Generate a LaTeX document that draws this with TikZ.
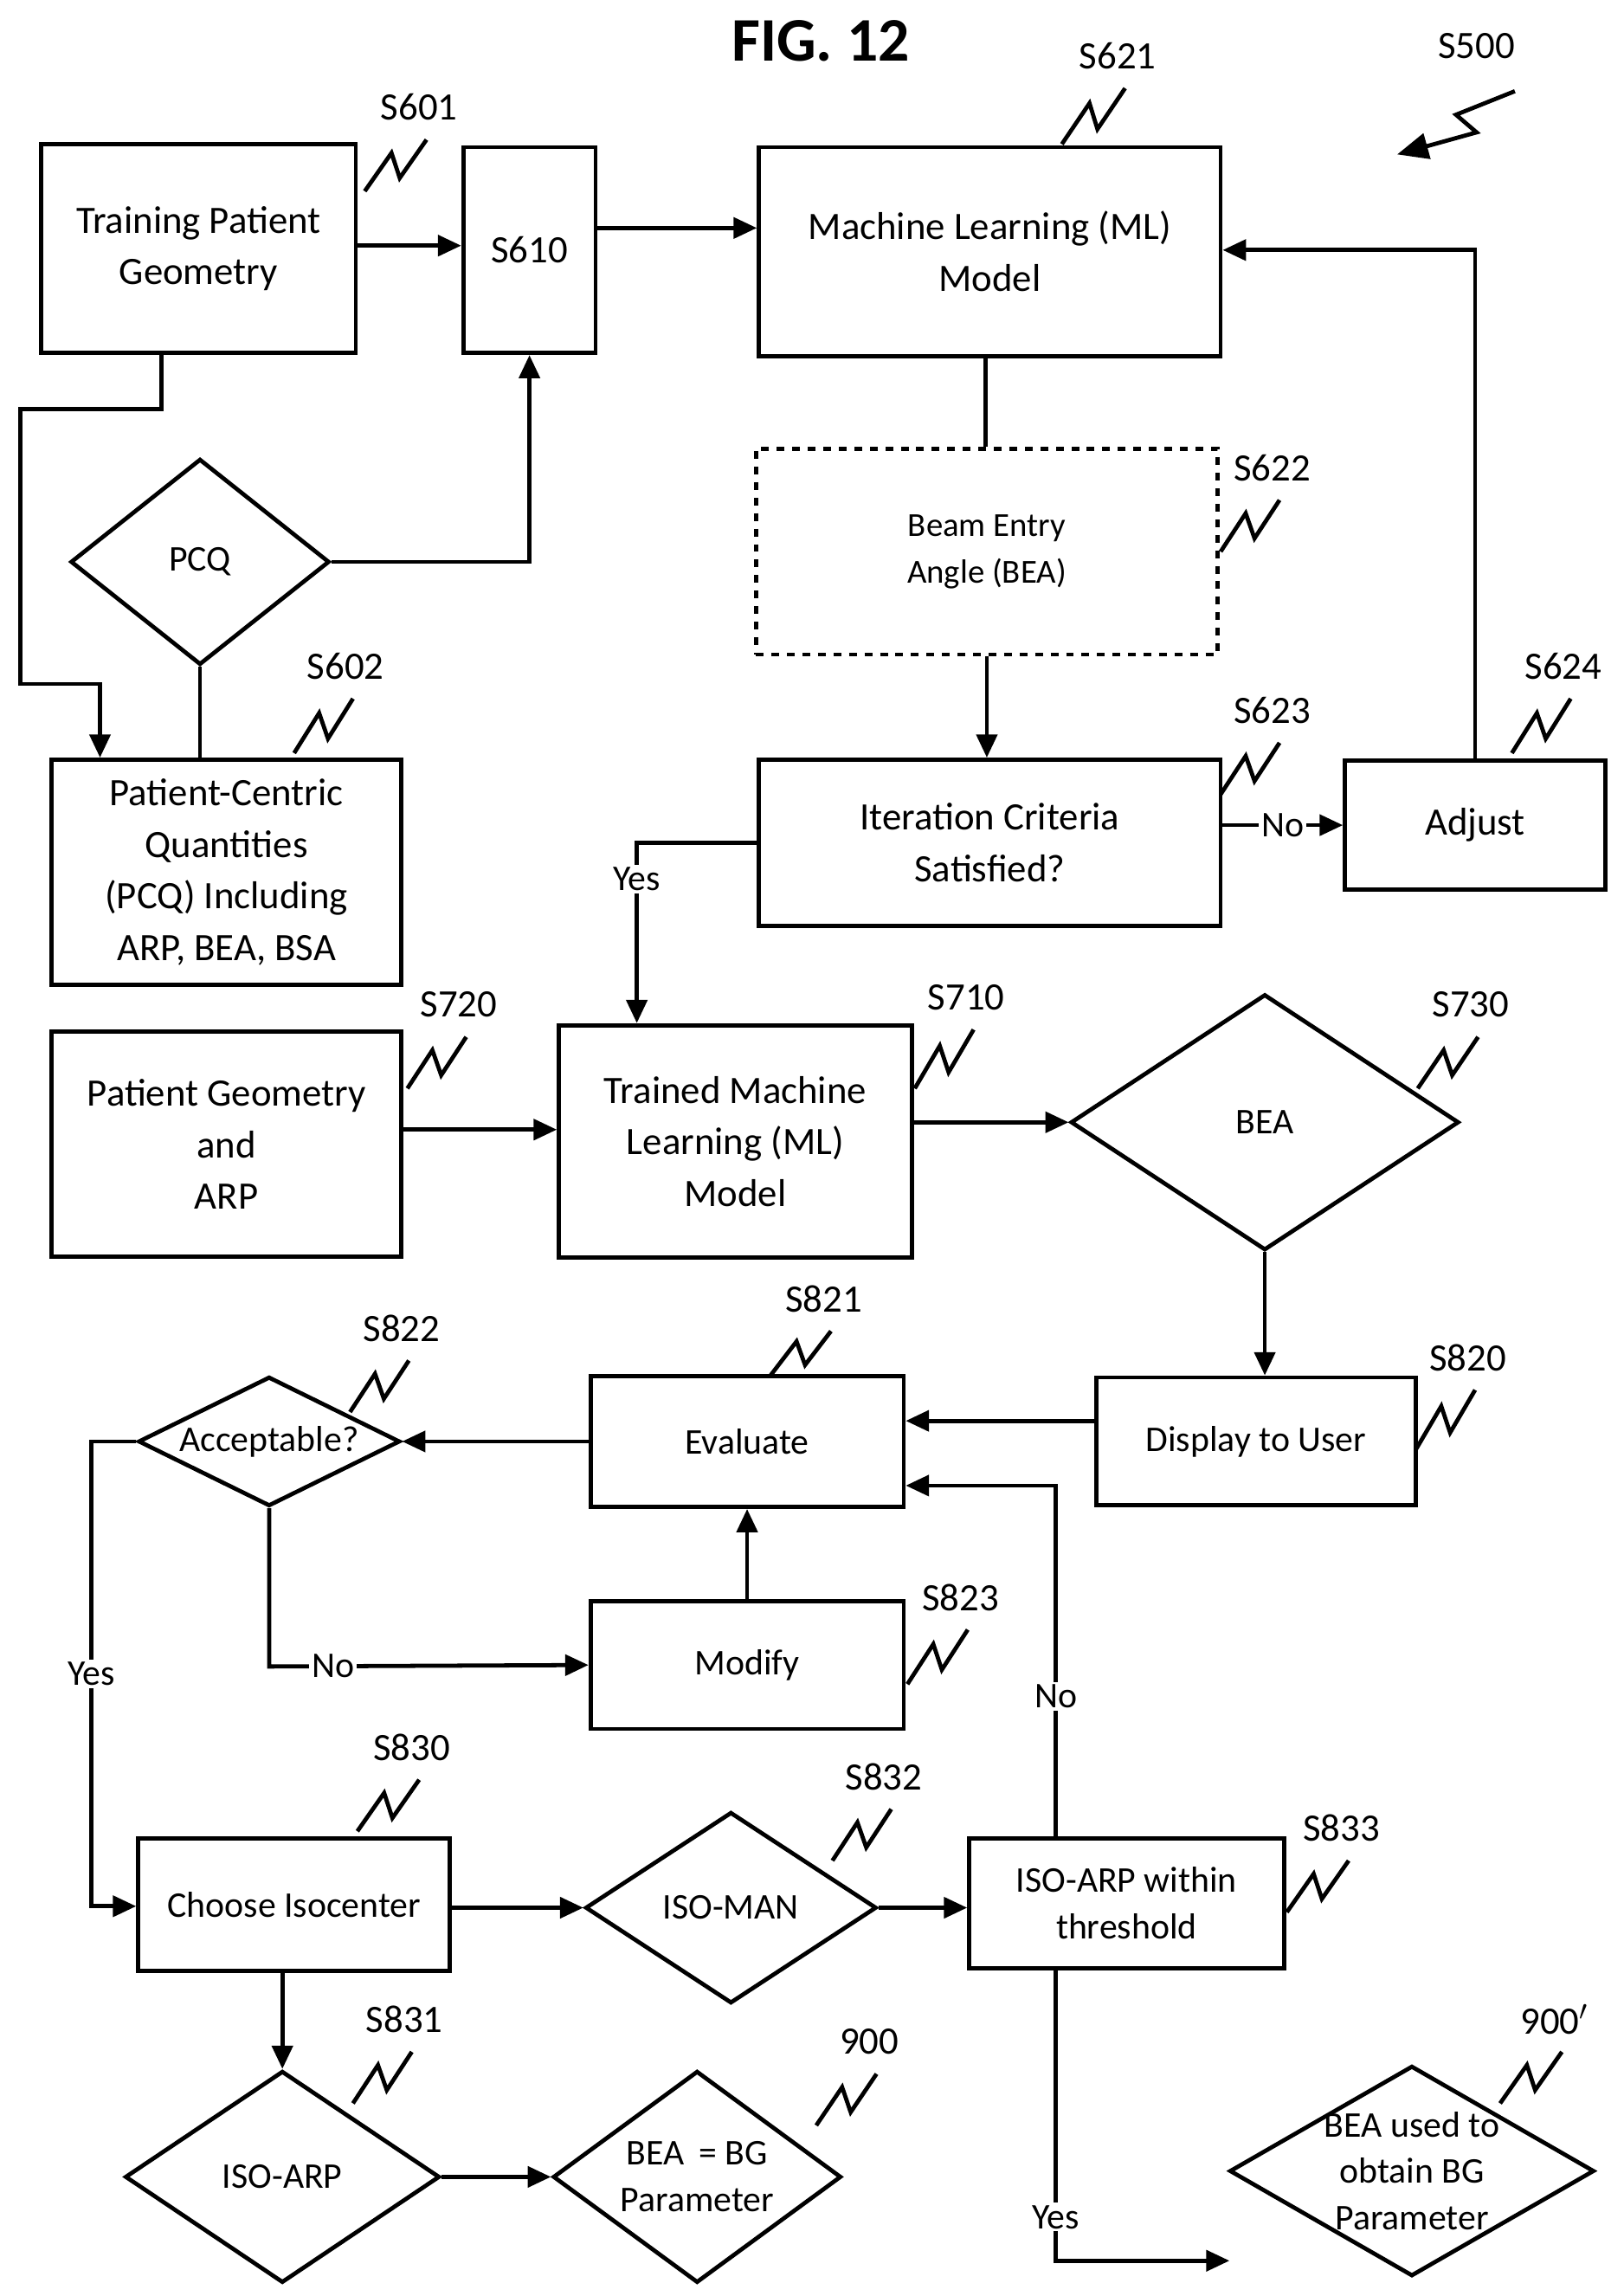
\documentclass[tikz,border=0pt]{standalone}
\usepackage{fontspec}
\setmainfont{Carlito}
\usetikzlibrary{arrows.meta, shapes.geometric, calc}
\tikzset{box/.style={draw, line width=1.6pt, align=center, inner sep=2pt,
    font=\fontsize{15}{20}\selectfont}}
\tikzset{dia/.style={draw, shape=diamond, line width=1.6pt, align=center, inner sep=0pt,
    font=\fontsize{14}{18}\selectfont}}
\tikzset{flow/.style={line width=1.6pt, -{Triangle[length=9pt,width=8pt]}}}
\tikzset{link/.style={line width=1.6pt}}
\tikzset{lbl/.style={font=\fontsize{14}{16}\selectfont, fill=white, inner sep=1pt}}
\newcommand\stepmark[5]{% squiggle from (#1,#2) to (#3,#4), text #5 above
  \draw[line width=1.6pt, line join=miter] (#1,#2) -- ($(#1,#2)!0.6!(#3,#4)+(-7,-5)$) --
    ($(#1,#2)!0.4!(#3,#4)+(7,5)$) -- (#3,#4);
  \node[font=\fontsize{15}{17}\selectfont] at ($(#3,#4)+(-5,-22)$) {#5};%
}
\begin{document}
\begin{tikzpicture}[x=0.02cm, y=-0.02cm]
  \useasboundingbox (0,0) rectangle (1104,1561);
  \node[font=\bfseries\fontsize{24}{28}\selectfont] (fig) at (558,28) {FIG. 12};
  %% boxes
  \node[box, minimum width=4.28cm, minimum height=2.84cm] (tpg) at (135,169) {Training Patient\\Geometry};
  \node[box, minimum width=1.8cm, minimum height=2.8cm] (s610) at (360,170) {S610};
  \node[box, minimum width=6.28cm, minimum height=2.84cm] (ml) at (673,171) {Machine Learning (ML)\\Model};
  \node[dia, aspect=1.26, minimum width=3.52cm, minimum height=2.8cm] (pcq) at (136,382) {PCQ};
  \node[box, minimum width=4.76cm, minimum height=3.06cm] (pcqbox) at (154,593) {Patient-Centric\\Quantities\\(PCQ) Including\\ARP, BEA, BSA};
  \node[box, dashed, minimum width=6.28cm, minimum height=2.8cm, font=\fontsize{13}{18}\selectfont] (bea) at (671,375) {Beam Entry\\Angle (BEA)};
  \node[box, minimum width=6.28cm, minimum height=2.26cm] (iter) at (673,573) {Iteration Criteria\\Satisfied?};
  \node[box, minimum width=3.54cm, minimum height=1.76cm] (adj) at (1003,561) {Adjust};
  \node[box, minimum width=4.76cm, minimum height=3.06cm] (pga) at (154,778) {Patient Geometry\\and\\ARP};
  \node[box, minimum width=4.8cm, minimum height=3.16cm] (tml) at (500,776) {Trained Machine\\Learning (ML)\\Model};
  \node[dia, aspect=1.52, minimum width=5.28cm, minimum height=3.48cm] (beadia) at (860,763) {BEA};
  \node[box, minimum width=4.34cm, minimum height=1.74cm, font=\fontsize{14}{18}\selectfont] (disp) at (854,980) {Display to User};
  \node[box, minimum width=4.26cm, minimum height=1.78cm, font=\fontsize{14}{18}\selectfont] (eval) at (508,980) {Evaluate};
  \node[dia, aspect=2.02, inner sep=-4pt, minimum width=3.56cm, minimum height=1.76cm] (acc) at (183,980) {Acceptable?};
  \node[box, minimum width=4.26cm, minimum height=1.74cm, font=\fontsize{14}{18}\selectfont] (mod) at (508,1132) {Modify};
  \node[box, minimum width=4.24cm, minimum height=1.8cm, font=\fontsize{14}{18}\selectfont] (iso) at (200,1295) {Choose Isocenter};
  \node[dia, aspect=1.52, minimum width=3.96cm, minimum height=2.6cm] (isoman) at (497,1297) {ISO-MAN};
  \node[box, minimum width=4.28cm, minimum height=1.76cm, font=\fontsize{14}{18}\selectfont] (thr) at (766,1294) {ISO-ARP within\\threshold};
  \node[dia, aspect=1.49, minimum width=4.28cm, minimum height=2.88cm] (isoarp) at (192,1480) {ISO-ARP};
  \node[dia, aspect=1.36, minimum width=3.92cm, minimum height=2.88cm] (bg) at (474,1480) {BEA \,= BG\\Parameter};
  \node[dia, aspect=1.73, inner sep=-6pt, minimum width=4.96cm, minimum height=2.86cm] (used) at (960,1476) {BEA used to\\obtain BG\\Parameter};
  %% connectors
  \draw[flow] (tpg.east |- 0,167) -- (s610.west |- 0,167);
  \draw[flow] (s610.east |- 0,155) -- (ml.west |- 0,155);
  \draw[flow] (tpg.south -| 110,0) -- (110,278) -- (14,278) -- (14,465) -- (68,465) -- (pcqbox.north -| 68,0);
  \draw[flow] (pcq.east) -- (360,382) -- (s610.south);
  \draw[link] (pcq.south) -- (pcqbox.north -| pcq.south);
  \draw[link] (ml.south -| 670,0) -- (bea.north -| 670,0);
  \draw[flow] (bea.south) -- (iter.north -| bea.south);
  \draw[flow] (iter.east |- adj.west) -- node[lbl] {No} (adj.west);
  \draw[flow] (adj.north) -- (1003,170) -- (ml.east |- 0,170);
  \draw[flow] (iter.west |- 0,573) -- (433,573) -- node[lbl, pos=0.2] {Yes} (tml.north -| 433,0);
  \draw[flow] (pga.east |- 0,768) -- (tml.west |- 0,768);
  \draw[flow] (tml.east |- beadia.west) -- (beadia.west);
  \draw[flow] (beadia.south) -- (disp.north -| beadia.south);
  \draw[flow] (disp.west |- 0,966) -- (eval.east |- 0,966);
  \draw[flow] (eval.west) -- (acc.east);
  \draw[flow] (mod.north) -- (eval.south);
  \draw[flow] (acc.south) -- (183,1133) -- node[lbl, pos=0.2] {No} (mod.west);
  \draw[flow] (acc.west) -- (62,980) -- node[lbl, pos=0.5] {Yes} (62,1296) -- (iso.west |- 0,1296);
  \draw[flow] (iso.east |- isoman.west) -- (isoman.west);
  \draw[flow] (isoman.east) -- (thr.west |- isoman.east);
  \draw[flow] (thr.north -| 718,0) -- node[lbl, pos=0.4] {No} (718,1010) -- (eval.east |- 0,1010);
  \coordinate (yesend) at (836,1537);
  \draw[flow] (thr.south -| 718,0) -- node[lbl, pos=0.85] {Yes} (718,1537) -- (yesend);
  \draw[flow] (iso.south -| isoarp.north) -- (isoarp.north);
  \draw[flow] (isoarp.east) -- (bg.west);
  %% step marks
  \stepmark{248}{130}{290}{95}{S601}
  \stepmark{722}{98}{765}{60}{S621}
  \stepmark{830}{375}{870}{340}{S622}
  \stepmark{200}{512}{240}{475}{S602}
  \stepmark{830}{540}{870}{505}{S623}
  \stepmark{1028}{512}{1068}{475}{S624}
  \stepmark{277}{740}{317}{705}{S720}
  \stepmark{622}{740}{662}{700}{S710}
  \stepmark{964}{740}{1005}{705}{S730}
  \stepmark{238}{960}{278}{925}{S822}
  \stepmark{524}{935}{565}{905}{S821}
  \stepmark{963}{985}{1003}{945}{S820}
  \stepmark{617}{1145}{658}{1108}{S823}
  \stepmark{243}{1245}{285}{1210}{S830}
  \stepmark{566}{1265}{606}{1230}{S832}
  \stepmark{875}{1300}{917}{1265}{S833}
  \stepmark{240}{1430}{280}{1395}{S831}
  \stepmark{555}{1445}{596}{1410}{900}
  \stepmark{1020}{1430}{1062}{1395}{900$'$}
  \draw[line width=1.6pt, -{Triangle[length=12pt,width=10pt]}] (1030,62) -- (990,78) -- (1004,90) -- (950,105);
  \node[font=\fontsize{15}{17}\selectfont] (s500) at (1004,31) {S500};
\end{tikzpicture}
\end{document}
